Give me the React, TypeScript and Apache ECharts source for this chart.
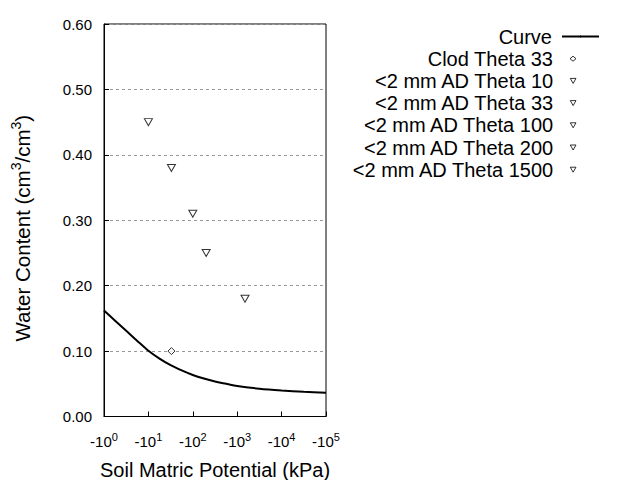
import React, { useEffect, useRef } from "react";
import * as echarts from "echarts";

const curveLogH = [0, 0.25, 0.5, 0.75, 1.0, 1.25, 1.5, 1.75, 2.0, 2.25, 2.5, 2.75, 3.0, 3.5, 4.0, 4.5, 5.0];
const curveTheta = [0.162, 0.1465, 0.131, 0.1155, 0.1005, 0.0885, 0.0785, 0.0705, 0.0635, 0.058, 0.0535, 0.05, 0.0466, 0.0425, 0.0398, 0.0378, 0.0363];

const clodH = [33];
const clodTheta = [0.1];

const adNames = ["<2 mm AD Theta 10", "<2 mm AD Theta 33", "<2 mm AD Theta 100", "<2 mm AD Theta 200", "<2 mm AD Theta 1500"];
const adH = [10, 33, 100, 200, 1500];
const adTheta = [0.45, 0.38, 0.31, 0.25, 0.18];

const legendNames = ["Curve", "Clod Theta 33", ...adNames];

const FONT = "'Liberation Sans', Arial, sans-serif";
const DOWN_TRI = "path://M0,0L8,0L4,7Z";

export default function App() {
  const ref = useRef<HTMLDivElement>(null);
  useEffect(() => {
    if (!ref.current) return;
    const chart = echarts.init(ref.current, undefined, { renderer: "svg" });

    const series: any[] = [
      {
        name: "Curve",
        type: "line",
        data: curveLogH.map((l, i) => [Math.pow(10, l), curveTheta[i]]),
        showSymbol: false,
        symbol: "none",
        smooth: 0.3,
        lineStyle: { color: "#000", width: 2 },
        itemStyle: { color: "#000" },
        z: 3,
      },
      {
        name: "Clod Theta 33",
        type: "scatter",
        data: clodH.map((h, i) => [h, clodTheta[i]]),
        symbol: "diamond",
        symbolSize: [7, 7],
        itemStyle: { color: "#fff", borderColor: "#000", borderWidth: 1 },
      },
      ...adNames.map((n, i) => ({
        name: n,
        type: "scatter",
        data: [[adH[i], adTheta[i]]],
        symbol: DOWN_TRI,
        symbolSize: [8, 7],
        itemStyle: { color: "#fff", borderColor: "#000", borderWidth: 1 },
      })),
    ];

    const legends = legendNames.map((n, i) => {
      const isCurve = i === 0;
      const isClod = i === 1;
      return {
        data: [
          isCurve
            ? { name: n }
            : { name: n, icon: isClod ? "diamond" : DOWN_TRI, itemStyle: { color: "#fff", borderColor: "#000", borderWidth: 1 } },
        ],
        orient: "vertical",
        align: "right",
        right: isCurve ? 40 : 63.5,
        top: 26.5 + i * 22.2,
        padding: 0,
        itemWidth: isCurve ? 37 : 6,
        itemHeight: isCurve ? 2 : 5,
        itemGap: 0,
        selectedMode: false,
        textStyle: {
          fontFamily: FONT,
          fontSize: 20,
          lineHeight: 20,
          color: "#000",
          padding: isCurve ? [0, 5, 0, 0] : [0, 12, 0, 0],
        },
      };
    });

    chart.setOption({
      animation: false,
      backgroundColor: "#fff",
      textStyle: { fontFamily: FONT },
      legend: legends,
      grid: {
        left: 104,
        right: 314,
        top: 24,
        bottom: 63.5,
        containLabel: false,
        outerBoundsMode: "none",
        show: true,
        borderColor: "#000",
        borderWidth: 1,
        backgroundColor: "transparent",
      },
      xAxis: {
        type: "log",
        logBase: 10,
        min: 1,
        max: 100000,
        name: "Soil Matric Potential (kPa)",
        nameLocation: "middle",
        nameGap: 43,
        nameTextStyle: { fontFamily: FONT, fontSize: 20, color: "#000" },
        axisLine: { lineStyle: { color: "#000", width: 1 } },
        axisTick: { inside: true, length: 5, lineStyle: { color: "#000" } },
        minorTick: { show: false },
        splitLine: { show: false },
        axisLabel: {
          margin: 15,
          color: "#000",
          fontFamily: FONT,
          fontSize: 15,
          formatter: (v: number) => `-10{s|${Math.round(Math.log10(v))}}`,
          rich: {
            s: { fontSize: 11, fontFamily: FONT, color: "#000", padding: [0, 0, 9, 0] },
          },
        },
      },
      yAxis: {
        type: "value",
        min: 0,
        max: 0.6,
        interval: 0.1,
        name: "Water Content (cm{s|3}/cm{s|3})",
        nameLocation: "middle",
        nameGap: 69,
        nameTextStyle: {
          fontFamily: FONT,
          fontSize: 20.5,
          color: "#000",
          padding: [0, 16, 0, 0],
          rich: { s: { fontSize: 14, fontFamily: FONT, color: "#000", padding: [0, 0, 12, 0] } },
        },
        axisLine: { show: true, lineStyle: { color: "#000", width: 1 } },
        axisTick: { show: true, inside: true, length: 5, lineStyle: { color: "#000" } },
        splitLine: { show: true, lineStyle: { color: "#999", type: [3, 3], width: 1 } },
        axisLabel: {
          margin: 12,
          color: "#000",
          fontFamily: FONT,
          fontSize: 15,
          formatter: (v: number) => v.toFixed(2),
        },
      },
      series,
    });
    return () => chart.dispose();
  }, []);
  return <div ref={ref} style={{ width: 640, height: 480, position: "absolute", left: 0, top: 0 }} />;
}
